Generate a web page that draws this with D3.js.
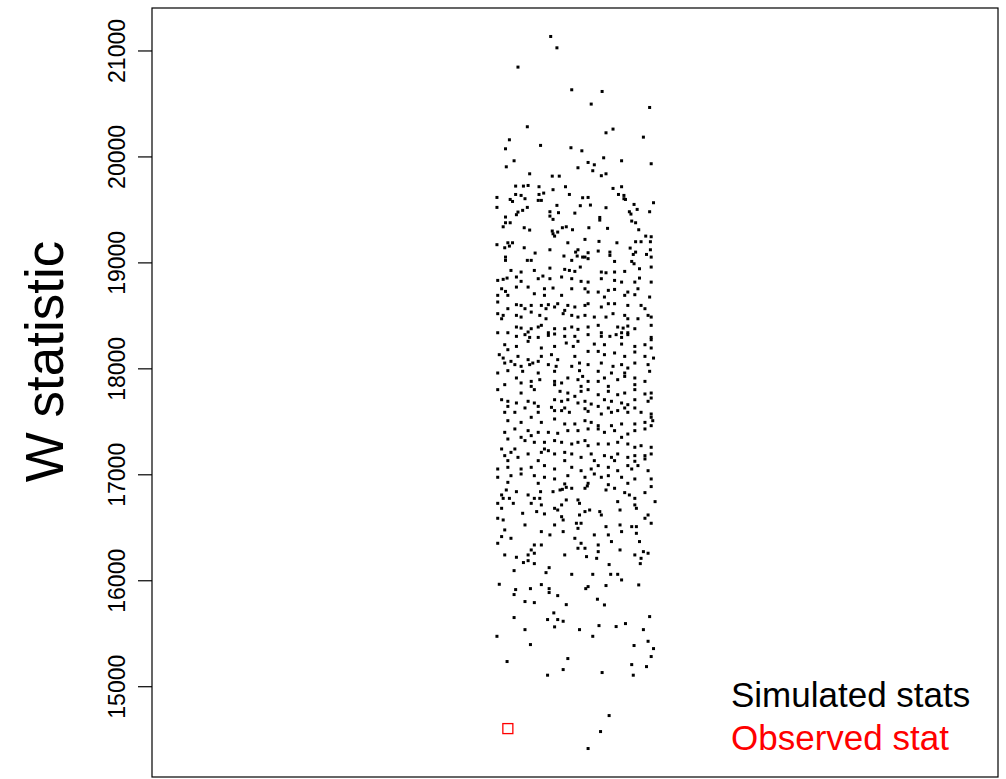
<!DOCTYPE html>
<html>
<head>
<meta charset="utf-8">
<script src="https://cdn.jsdelivr.net/npm/d3@7"></script>
<style>
  body { margin: 0; background: #fff; }
  text { font-family: "Liberation Sans", Arial, Helvetica, sans-serif; }
</style>
</head>
<body>
<div id="chart"></div>
<script>
// y axis tick values
const tickValues = [15000, 16000, 17000, 18000, 19000, 20000, 21000];

// simulated W statistics: [jitter offset from group centre (1/1000 units), W]
const simulated = [
  [-28,21132],[-20,21025],[-70,20843],[-1,20629],[38,20613],[24,20494],
  [99,20462],[-58,20280],[43,20223],[52,20258],[91,20182],[-81,20157],[-86,20072],[-41,20104],
  [-2,20082],[12,20053],[40,19987],[-75,19959],[-85,19902],[20,19943],[28,19921],[63,19959],
  [101,19931],[7,19893],[26,19865],[43,19836],[37,19818],[-55,19836],[-26,19814],[-17,19814],
  [-73,19720],[-63,19720],[-57,19726],[-43,19714],[-9,19714],[52,19698],[63,19714],[-97,19613],
  [-73,19641],[-66,19632],[-61,19601],[-43,19641],[-37,19654],[-25,19686],[-4,19641],[13,19610],
  [20,19613],[59,19641],[66,19632],[66,19601],[68,19594],[79,19547],[104,19563],[-80,19594],
  [-77,19575],[-44,19585],[-40,19585],[-97,19519],[-58,19519],[-20,19538],[10,19535],[23,19541],
  [43,19516],[-64,19491],[-70,19475],[-72,19450],[-29,19478],[-18,19469],[-29,19437],[-25,19406],
  [3,19465],[73,19478],[75,19456],[83,19500],[99,19478],[-86,19428],[-86,19374],[-80,19374],
  [35,19424],[35,19399],[76,19390],[81,19374],[-89,19336],[-62,19327],[-55,19305],[-26,19296],
  [-25,19270],[-19,19286],[-13,19327],[-8,19336],[0,19308],[21,19327],[45,19321],[85,19308],
  [-23,19248],[16,19217],[94,19248],[101,19242],[34,19198],[57,19185],[81,19195],[88,19195],
  [100,19195],[-6,19185],[-97,19167],[-83,19185],[-77,19185],[-87,19138],[-81,19154],[-62,19138],
  [-29,19119],[-48,19088],[4,19097],[7,19119],[20,19091],[33,19107],[48,19097],[74,19135],
  [100,19119],[95,19075],[-86,19050],[-11,19060],[6,19060],[16,19050],[48,19066],[78,19075],
  [81,19097],
  [-86,19019],[-58,19019],[-53,19019],[-1,19019],[13,19050],[20,19035],[54,19009],[76,19009],
  [101,19050],[-79,18924],[-66,18909],[-49,18924],[-29,18946],[-10,18934],[-4,18924],[3,18915],
  [10,18956],[37,18909],[43,18902],[54,18909],[67,18915],[79,18987],[86,18940],[101,18956],
  [-96,18830],[-89,18840],[-84,18852],[-72,18862],[-66,18821],[-44,18846],[-38,18871],[-29,18846],
  [-14,18862],[-1,18846],[11,18821],[20,18814],[37,18846],[54,18830],[63,18814],[80,18814],
  [86,18852],[101,18814],[-91,18751],[-86,18726],[-96,18689],[-83,18689],[-72,18767],[-57,18767],
  [-36,18751],[-25,18758],[-14,18689],[-1,18751],[16,18751],[20,18720],[33,18720],[46,18736],
  [54,18745],[71,18720],[84,18751],[99,18673],[-49,18704],[-36,18689],[41,18673],[67,18689],
  [80,18695],[-96,18626],[-72,18601],[-66,18594],[-53,18594],[-40,18594],[-31,18601],[-23,18579],
  [-19,18610],[-6,18594],[3,18579],[16,18594],[20,18610],[37,18579],[46,18610],[54,18610],
  [71,18594],[88,18594],[93,18563],[-83,18563],[-61,18563],[-34,18563],[-10,18547],[-96,18516],
  [-89,18500],[-72,18500],[-66,18484],[-53,18531],[-42,18500],[-34,18468],[-12,18516],[-1,18500],
  [7,18484],[16,18500],[28,18484],[43,18484],[52,18516],[67,18500],[71,18468],[84,18468],
  [101,18484],[-91,18468],[97,18500],[-72,18390],[-66,18380],[-53,18374],[-44,18390],[-40,18406],
  [-23,18374],[-10,18374],[-1,18390],[7,18368],[20,18390],[33,18406],[58,18390],[65,18380],
  [71,18399],[80,18374],[101,18406],[-96,18336],[-83,18336],[-57,18343],[-31,18336],[37,18336],
  [63,18336],[71,18336],
  [-72,18302],[-61,18318],[-55,18292],[-44,18292],[-31,18311],[-23,18324],[-10,18302],[3,18302],
  [20,18318],[37,18302],[48,18302],[56,18318],[63,18292],[71,18318],[101,18292],[-87,18223],
  [-72,18207],[-57,18255],[-40,18192],[-23,18207],[-8,18239],[1,18207],[7,18255],[28,18229],
  [41,18223],[63,18229],[80,18207],[93,18223],[101,18270],[101,18192],[-83,18176],[-94,18129],
  [-89,18097],[-70,18113],[-57,18082],[-40,18113],[-27,18129],[-19,18082],[3,18113],[20,18160],
  [33,18160],[41,18129],[54,18145],[67,18113],[80,18154],[93,18113],[104,18097],[-79,18066],
  [-44,18066],[-96,17956],[-87,18050],[-74,18035],[-66,18019],[-55,18035],[-51,18050],[-31,18035],
  [-21,18019],[-1,18019],[9,18050],[20,18035],[37,18050],[52,18019],[63,18035],[71,18003],
  [80,18050],[97,18035],[-83,17978],[-64,17972],[-44,17956],[-23,17972],[9,17978],[33,17972],
  [50,17956],[67,17956],[99,17972],[-72,17909],[-66,17862],[-53,17877],[-42,17893],[-23,17877],
  [-14,17862],[-6,17909],[7,17893],[13,17924],[20,17877],[33,17877],[41,17909],[58,17893],
  [67,17924],[80,17909],[93,17877],[-87,17846],[-53,17830],[-23,17846],[11,17830],[46,17830],
  [80,17846],[-96,17799],[-66,17767],[-49,17799],[-16,17783],[-6,17767],[11,17783],[20,17799],
  [33,17751],[46,17783],[58,17751],[67,17767],[80,17799],[93,17758],[101,17767],[3,17736],
  [-91,17704],[-83,17689],[-72,17673],[-57,17689],[-49,17673],[-44,17641],[-23,17704],[-14,17689],
  [-6,17704],[7,17673],[16,17689],[24,17663],[33,17641],[41,17704],[50,17689],[63,17673],
  [71,17657],[80,17704],[97,17689],[101,17720],[-83,17641],[-61,17626],[-27,17632],[-10,17626],
  [16,17619],[46,17626],[67,17626],[80,17626],
  [-87,17585],[-74,17585],[-44,17585],[-23,17601],[-14,17601],[-4,17585],[20,17594],[37,17569],
  [50,17585],[58,17601],[71,17585],[88,17585],[101,17569],[-83,17506],[-66,17490],[-53,17538],
  [-40,17490],[-23,17522],[-10,17475],[3,17475],[16,17506],[24,17490],[33,17459],[50,17459],
  [63,17475],[80,17475],[93,17490],[101,17538],[103,17506],[-87,17396],[-74,17428],[-57,17412],
  [-44,17396],[-31,17396],[-19,17387],[-6,17412],[7,17412],[20,17428],[33,17428],[41,17396],
  [54,17412],[71,17380],[80,17412],[93,17428],[101,17459],[-66,17349],[-53,17365],[63,17349],
  [-83,17333],[-61,17318],[-49,17302],[-36,17302],[-23,17318],[-14,17302],[-1,17286],[7,17302],
  [16,17318],[20,17270],[33,17286],[46,17286],[58,17302],[71,17286],[80,17255],[88,17270],
  [101,17255],[-91,17239],[-74,17239],[-36,17239],[-87,17176],[-79,17207],[-70,17160],[-57,17192],
  [-40,17207],[-31,17223],[-23,17192],[-10,17207],[-1,17192],[11,17160],[24,17192],[41,17176],
  [50,17160],[58,17192],[71,17160],[80,17176],[93,17176],[101,17192],[-83,17129],[-44,17129],
  [-10,17129],[28,17129],[54,17129],[80,17123],[93,17145],[-96,17050],[-83,17066],[-66,17050],
  [-53,17066],[-36,17082],[-23,17050],[-1,17066],[11,17034],[24,17050],[33,17082],[46,17066],
  [58,17034],[76,17050],[84,17082],[97,17034],[71,17082],[-96,16972],[-79,16987],[-66,17003],
  [-49,16987],[-36,16972],[-23,16956],[-6,16987],[16,16972],[28,17003],[37,16972],[46,16987],
  [63,16972],[80,16956],[101,16956],[-83,16924],[-44,16915],[-10,16909],[20,16915],[46,16902],
  [71,16915],
  [-85,16852],[-72,16836],[-91,16805],[-89,16773],[-81,16773],[-57,16805],[-49,16773],[-42,16773],
  [-41,16836],[-25,16836],[-16,16852],[-13,16858],[-8,16877],[-1,16868],[16,16868],[19,16890],
  [43,16852],[54,16868],[67,16827],[73,16805],[80,16773],[93,16827],[101,16884],[106,16742],
  [-96,16726],[-91,16679],[-96,16585],[-89,16569],[-76,16726],[-64,16632],[-53,16726],[-46,16648],
  [-40,16711],[-36,16626],[-23,16679],[-19,16663],[-14,16711],[-8,16758],[7,16758],[9,16726],
  [9,16616],[16,16648],[22,16663],[35,16648],[37,16616],[58,16742],[61,16663],[80,16711],
  [82,16679],[97,16616],[93,16585],[-14,16600],[-12,16569],[-61,16522],[-40,16459],[-23,16522],
  [-12,16459],[5,16538],[11,16538],[7,16490],[28,16428],[43,16506],[46,16428],[61,16522],
  [63,16459],[76,16506],[82,16506],[101,16538],[82,16443],[-87,16475],[-91,16412],[-96,16349],
  [-79,16396],[-49,16333],[-40,16333],[-29,16428],[3,16396],[11,16349],[7,16302],[16,16302],
  [33,16333],[50,16365],[61,16286],[86,16365],[91,16270],[97,16255],[-87,16239],[-72,16217],
  [-57,16239],[-53,16286],[-49,16255],[-10,16239],[18,16223],[31,16207],[33,16270],[80,16239],
  [88,16207],[-57,16185],
  [-63,16167],[-49,16157],[47,16148],[87,16157],[-30,16119],[-75,16091],[-34,16072],[-1,16056],
  [26,16056],[49,16056],[58,16056],[63,16003],[-94,15962],[-40,15959],[-73,15912],[-54,15921],
  [-30,15921],[-30,15884],[20,15940],[17,15921],[43,15950],[85,15956],[-75,15865],[-19,15855],
  [-61,15799],[-49,15789],[-8,15770],[32,15821],[41,15767],[-24,15692],[-75,15648],[-32,15629],
  [-19,15629],[-12,15613],[99,15657],[68,15591],[-23,15560],[34,15572],[56,15563],[-61,15534],
  [9,15534],[91,15534],[-97,15471],[26,15471],
  [-54,15393],[97,15424],[79,15384],[104,15355],[-6,15261],[-84,15233],[101,15280],[-12,15157],
  [76,15204],[95,15185],[-32,15104],[38,15129],[78,15104],
  [47,14723],[36,14572],[20,14412]
];

// observed W statistic: [jitter offset (1/1000 units), W]
const observed = [[-83, 14600]];

const legendLabels = ["Simulated stats", "Observed stat"];
const legendColors = ["#000000", "#ff0000"];

document.addEventListener("DOMContentLoaded", function () {
  const width = 1006;
  const height = 779;
  const left = 152, right = 998, top = 8, bottom = 777;

  const svg = d3.select('#chart').append('svg')
    .attr('width', width)
    .attr('height', height);

  // R-style 4% padding on y
  const allW = simulated.map(d => d[1]).concat(observed.map(d => d[1]));
  const [lo, hi] = d3.extent(allW);
  const pad = (hi - lo) * 0.04;
  const y = d3.scaleLinear().domain([lo - pad, hi + pad]).range([bottom, top]);
  // one group at x = 1, xlim 0.5..1.5 padded
  const x = d3.scaleLinear().domain([0.4602, 1.5462]).range([left, right]);

  // plot box
  svg.append('rect')
    .attr('x', left)
    .attr('y', top)
    .attr('width', right - left)
    .attr('height', bottom - top)
    .attr('fill', 'none')
    .attr('stroke', 'black')
    .attr('stroke-width', 1.2);

  // y axis
  const axis = svg.append('g')
    .attr('transform', `translate(${left},0)`)
    .call(d3.axisLeft(y).tickValues(tickValues).tickSize(14).tickFormat(d3.format('d')));
  axis.select('.domain').remove();
  axis.selectAll('.tick line').attr('stroke', 'black').attr('stroke-width', 1.2);
  axis.selectAll('.tick text')
    .attr('transform', 'rotate(-90)')
    .attr('x', 0)
    .attr('y', -35)
    .attr('dy', null)
    .attr('dominant-baseline', 'central')
    .attr('text-anchor', 'middle')
    .attr('font-size', '23px')
    .attr('font-family', '"Liberation Sans", Arial, sans-serif')
    .attr('fill', 'black');

  // y title
  svg.append('text')
    .attr('transform', `translate(63,${(top + bottom) / 2 - 31}) rotate(-90)`)
    .attr('text-anchor', 'middle')
    .attr('font-size', '53px')
    .text('W statistic');

  // simulated points
  const s = 3;
  svg.append('g').selectAll('rect')
    .data(simulated)
    .join('rect')
    .attr('x', d => x(1 + d[0] / 1000) - s / 2)
    .attr('y', d => y(d[1]) - s / 2)
    .attr('width', s)
    .attr('height', s)
    .attr('fill', 'black');

  // observed point
  const o = 10;
  svg.append('g').selectAll('rect')
    .data(observed)
    .join('rect')
    .attr('x', d => x(1 + d[0] / 1000) - o / 2)
    .attr('y', d => y(d[1]) - o / 2)
    .attr('width', o)
    .attr('height', o)
    .attr('fill', 'none')
    .attr('stroke', legendColors[1])
    .attr('stroke-width', 1.3);

  // legend (text only)
  legendLabels.forEach((label, i) => {
    svg.append('text')
      .attr('x', 731)
      .attr('y', 707 + i * 43)
      .attr('font-size', '35px')
      .attr('fill', legendColors[i])
      .text(label);
  });
});
</script>
</body>
</html>
